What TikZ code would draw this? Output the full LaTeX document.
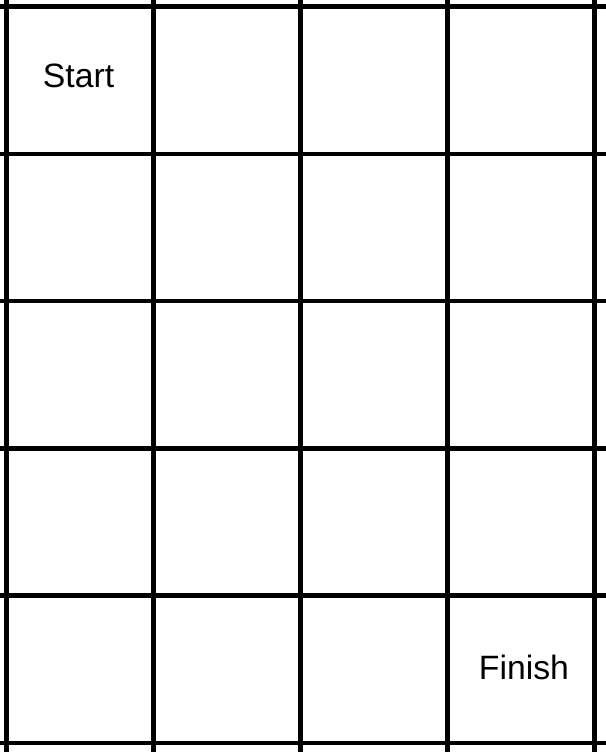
\documentclass[tikz,border=0pt]{standalone}
\usepackage{fontspec}
\setmainfont{Liberation Sans}
\usetikzlibrary{positioning}

\begin{document}
\begin{tikzpicture}[x=0.025cm,y=0.025cm,
        gridline/.style={line width=3.2pt},
        celltext/.style={font=\fontsize{24}{28}\selectfont}]
        \useasboundingbox (0,0) rectangle (606,752);
        \fill[white] (0,0) rectangle (606,752);
        % grid lines run off the edges
        \foreach \x in {6.5,153.5,300.5,447.5,594.5} {
            \draw[gridline] (\x,0) -- (\x,752);
        }
        \foreach \y in {745.5,598.2,450.9,303.6,156.3,9} {
            \draw[gridline] (0,\y) -- (606,\y);
        }
        \node[celltext] (start) at (78.5,676) {Start};
        \node[celltext] (finish) at (524,85) {Finish};
    \end{tikzpicture}
\end{document}
